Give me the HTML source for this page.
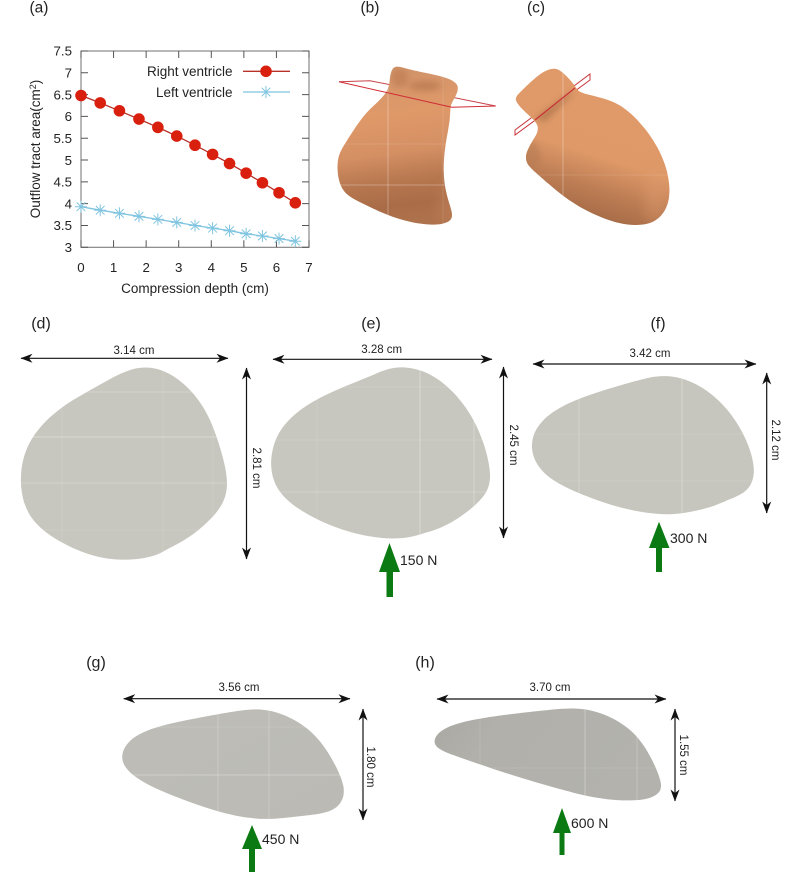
<!DOCTYPE html>
<html lang="en">
<head>
<meta charset="utf-8">
<title>Outflow tract compression figure</title>
<style>
html,body{margin:0;padding:0;background:#fff;}
svg{display:block;}
.ls{font-family:"Liberation Sans",sans-serif;fill:#222;}
.tick{font-size:13.3px;}
.axis{font-size:13.5px;}
.dim{font-size:11.5px;text-anchor:middle;dominant-baseline:central;}
.force{font-size:14px;dominant-baseline:central;}
.panel-dv{font-size:16px;text-anchor:middle;dominant-baseline:central;}
.panel-ls{font-size:15.5px;text-anchor:middle;dominant-baseline:central;}
.seam{stroke:#fff;stroke-width:.8;opacity:.14;fill:none;}
.seam.strong{opacity:.38;}
.dimline{stroke:#111;stroke-width:1.2;fill:none;}
</style>
</head>
<body>
<svg id="fig" width="787" height="874" viewBox="0 0 787 874" xmlns="http://www.w3.org/2000/svg">
<defs>
  <marker id="ah" viewBox="0 0 12 10" refX="11.5" refY="5" markerWidth="12" markerHeight="10" markerUnits="userSpaceOnUse" orient="auto-start-reverse">
    <path d="M0 .5L12 5L0 9.5L3.5 5Z" fill="#111"/>
  </marker>
  <linearGradient id="heartB" x1=".4" y1="0" x2=".5" y2="1">
    <stop offset="0" stop-color="#d0936a"/>
    <stop offset=".3" stop-color="#df9969"/>
    <stop offset=".55" stop-color="#d48f63"/>
    <stop offset=".72" stop-color="#b87850"/>
    <stop offset=".88" stop-color="#a96c47"/>
    <stop offset="1" stop-color="#ae724c"/>
  </linearGradient>
  <linearGradient id="heartC" x1=".65" y1=".2" x2=".4" y2="1">
    <stop offset="0" stop-color="#e09a6a"/>
    <stop offset=".45" stop-color="#df9968"/>
    <stop offset=".7" stop-color="#bd7d54"/>
    <stop offset=".9" stop-color="#a76c47"/>
    <stop offset="1" stop-color="#a96e49"/>
  </linearGradient>
  <linearGradient id="grayG" x1="0" y1="0" x2="1" y2="1">
    <stop offset="0" stop-color="#bebdb7"/>
    <stop offset="1" stop-color="#bbbab4"/>
  </linearGradient>
  <linearGradient id="grayH" x1="0" y1="0" x2="1" y2=".3">
    <stop offset="0" stop-color="#a9a8a3"/>
    <stop offset=".3" stop-color="#b1b0aa"/>
    <stop offset="1" stop-color="#b3b2ac"/>
  </linearGradient>
  <filter id="soft" x="-40%" y="-40%" width="180%" height="180%"><feGaussianBlur stdDeviation="3"/></filter>
  <filter id="softer" x="-40%" y="-40%" width="180%" height="180%"><feGaussianBlur stdDeviation="7"/></filter>
  <clipPath id="clip-b"><path id="c-b"/></clipPath>
  <clipPath id="clip-c"><path id="c-c"/></clipPath>
  <clipPath id="clip-d"><path id="c-d"/></clipPath>
  <clipPath id="clip-e"><path id="c-e"/></clipPath>
  <clipPath id="clip-f"><path id="c-f"/></clipPath>
  <clipPath id="clip-g"><path id="c-g"/></clipPath>
  <clipPath id="clip-h"><path id="c-h"/></clipPath>
</defs>

<!-- panel letters -->
<text class="ls panel-ls" x="39" y="8">(a)</text>
<text class="ls panel-ls" x="370" y="8">(b)</text>
<text class="ls panel-ls" x="536" y="8">(c)</text>
<text class="ls panel-dv" x="41" y="324">(d)</text>
<text class="ls panel-dv" x="371" y="324">(e)</text>
<text class="ls panel-dv" x="658" y="324">(f)</text>
<text class="ls panel-dv" x="96" y="663">(g)</text>
<text class="ls panel-dv" x="425" y="663">(h)</text>

<!-- chart -->
<g id="chart"></g>

<!-- heart b -->
<g>
  <polyline points="339,81.7 370,80.7 495.7,106" fill="none" stroke="#c8444a" stroke-width="1"/>
  <path id="s-b" fill="url(#heartB)"/>
  <g clip-path="url(#clip-b)">
    <ellipse cx="400" cy="78" rx="8" ry="9" fill="#b9754c" opacity=".5" filter="url(#soft)"/>
    <ellipse cx="425" cy="86" rx="16" ry="5" fill="#a9683f" opacity=".45" filter="url(#soft)"/>
    <ellipse cx="448" cy="205" rx="10" ry="20" fill="#d59468" opacity=".3" filter="url(#softer)"/>
    <line class="seam strong" x1="388" y1="60" x2="388" y2="225"/>
    <line class="seam strong" x1="330" y1="185" x2="460" y2="185"/>
    <line class="seam" x1="330" y1="144" x2="460" y2="144"/>
    <line class="seam" x1="443" y1="60" x2="443" y2="225"/>
  </g>
  <polyline points="339,81.7 451.7,107.3 495.7,106" fill="none" stroke="#cf2b35" stroke-width="1"/>
</g>

<!-- heart c -->
<g>
  <polygon points="515,130 590,74 590,80 515,135" fill="none" stroke="#c8343a" stroke-width="1"/>
  <path id="s-c" fill="url(#heartC)"/>
  <g clip-path="url(#clip-c)">
    <path d="M535 118L565 96L575 92L545 122Z" fill="#99653f" opacity=".5" filter="url(#soft)"/>
    <ellipse cx="530" cy="155" rx="10" ry="14" fill="#b37a52" opacity=".5" filter="url(#soft)"/>
    <ellipse cx="655" cy="195" rx="10" ry="30" fill="#dd9a6d" opacity=".45" filter="url(#softer)"/>
    <line class="seam strong" x1="563" y1="60" x2="563" y2="225"/>
    <line class="seam" x1="510" y1="175" x2="670" y2="175"/>
  </g>
  <line x1="535" y1="120" x2="575" y2="88" stroke="#c93338" stroke-width="1.2"/>
</g>

<!-- panel d -->
<g>
  <path id="s-d" fill="#c8c7bf"/>
  <g clip-path="url(#clip-d)">
    <line class="seam strong" x1="0" y1="437" x2="260" y2="437"/>
    <line class="seam" x1="0" y1="483" x2="260" y2="483" style="opacity:.28"/>
    <line class="seam" x1="0" y1="392" x2="260" y2="392" style="opacity:.28"/>
    <line class="seam" x1="0" y1="530" x2="260" y2="530"/>
    <line class="seam" x1="62" y1="360" x2="62" y2="570"/>
    <line class="seam" x1="163" y1="360" x2="163" y2="570"/>
    <line class="seam" x1="213" y1="360" x2="213" y2="570"/>
  </g>
  <line class="dimline" x1="21" y1="358.3" x2="228" y2="358.3" marker-start="url(#ah)" marker-end="url(#ah)"/>
  <line class="dimline" x1="246.5" y1="368" x2="246.5" y2="559" marker-start="url(#ah)" marker-end="url(#ah)"/>
  <text class="ls dim" x="134" y="351">3.14 cm</text>
  <text class="ls dim" transform="translate(256 468) rotate(90)">2.81 cm</text>
</g>

<!-- panel e -->
<g>
  <path id="s-e" fill="#c8c7bf"/>
  <g clip-path="url(#clip-e)">
    <line class="seam strong" x1="420" y1="360" x2="420" y2="545"/>
    <line class="seam" x1="474" y1="360" x2="474" y2="545" style="opacity:.32"/>
    <line class="seam" x1="317" y1="360" x2="317" y2="545"/>
    <line class="seam" x1="265" y1="387" x2="495" y2="387"/>
    <line class="seam" x1="265" y1="440" x2="495" y2="440"/>
    <line class="seam" x1="265" y1="492" x2="495" y2="492" style="opacity:.28"/>
  </g>
  <line class="dimline" x1="273" y1="359.3" x2="492" y2="359.3" marker-start="url(#ah)" marker-end="url(#ah)"/>
  <line class="dimline" x1="503.5" y1="367" x2="503.5" y2="538" marker-start="url(#ah)" marker-end="url(#ah)"/>
  <text class="ls dim" x="381.7" y="350">3.28 cm</text>
  <text class="ls dim" transform="translate(513 445) rotate(90)">2.45 cm</text>
  <polygon points="389.5,543 400,572 393,572 393,597 386.5,597 386.5,572 379,572" fill="#0b7a12"/>
  <text class="ls force" x="400" y="560">150 N</text>
</g>

<!-- panel f -->
<g>
  <path id="s-f" fill="#c7c6be"/>
  <g clip-path="url(#clip-f)">
    <line class="seam" x1="579" y1="370" x2="579" y2="520" style="opacity:.28"/>
    <line class="seam" x1="682" y1="370" x2="682" y2="520" style="opacity:.32"/>
    <line class="seam" x1="525" y1="434" x2="760" y2="434"/>
    <line class="seam" x1="525" y1="481" x2="760" y2="481"/>
  </g>
  <line class="dimline" x1="533" y1="364" x2="756" y2="364" marker-start="url(#ah)" marker-end="url(#ah)"/>
  <line class="dimline" x1="766.7" y1="373" x2="766.7" y2="513" marker-start="url(#ah)" marker-end="url(#ah)"/>
  <text class="ls dim" x="650" y="354">3.42 cm</text>
  <text class="ls dim" transform="translate(775 440) rotate(90)">2.12 cm</text>
  <polygon points="659,521.7 669.5,548 662,548 662,572 656,572 656,548 649,548" fill="#0b7a12"/>
  <text class="ls force" x="670" y="538">300 N</text>
</g>

<!-- panel g -->
<g>
  <path id="s-g" fill="url(#grayG)"/>
  <g clip-path="url(#clip-g)">
    <line class="seam strong" x1="115" y1="775" x2="350" y2="775"/>
    <line class="seam" x1="115" y1="727" x2="350" y2="727"/>
    <line class="seam" x1="218" y1="705" x2="218" y2="825" style="opacity:.28"/>
    <line class="seam" x1="269" y1="705" x2="269" y2="825" style="opacity:.28"/>
  </g>
  <line class="dimline" x1="123.7" y1="698.7" x2="350" y2="698.7" marker-start="url(#ah)" marker-end="url(#ah)"/>
  <line class="dimline" x1="363" y1="709" x2="363" y2="820" marker-start="url(#ah)" marker-end="url(#ah)"/>
  <text class="ls dim" x="239" y="688">3.56 cm</text>
  <text class="ls dim" transform="translate(370 767) rotate(90)">1.80 cm</text>
  <polygon points="252,825 262,849 255,849 255,872 249,872 249,849 242,849" fill="#0b7a12"/>
  <text class="ls force" x="262" y="839">450 N</text>
</g>

<!-- panel h -->
<g>
  <path id="s-h" fill="url(#grayH)"/>
  <g clip-path="url(#clip-h)">
    <line class="seam" x1="430" y1="768" x2="665" y2="768"/>
    <line class="seam strong" x1="585" y1="705" x2="585" y2="805"/>
    <line class="seam" x1="637" y1="705" x2="637" y2="805" style="opacity:.28"/>
    <line class="seam" x1="480" y1="705" x2="480" y2="805"/>
  </g>
  <line class="dimline" x1="437" y1="699" x2="666" y2="699" marker-start="url(#ah)" marker-end="url(#ah)"/>
  <line class="dimline" x1="675" y1="709" x2="675" y2="801" marker-start="url(#ah)" marker-end="url(#ah)"/>
  <text class="ls dim" x="550" y="688">3.70 cm</text>
  <text class="ls dim" transform="translate(683 755) rotate(90)">1.55 cm</text>
  <polygon points="562,808 571,833 564.5,833 564.5,855 559.5,855 559.5,833 553,833" fill="#0b7a12"/>
  <text class="ls force" x="571" y="823">600 N</text>
</g>
</svg>

<script>
// ---- chart data ----
var depthRight = [0,0.59,1.18,1.78,2.36,2.94,3.5,4.04,4.56,5.07,5.57,6.08,6.58];
var areaRight  = [6.48,6.31,6.13,5.94,5.75,5.55,5.34,5.13,4.92,4.70,4.48,4.25,4.02];
var depthLeft  = [0,0.59,1.18,1.78,2.36,2.94,3.5,4.04,4.56,5.07,5.57,6.08,6.58];
var areaLeft   = [3.93,3.85,3.78,3.71,3.64,3.57,3.50,3.44,3.38,3.31,3.26,3.20,3.14];
var xTicks = [0,1,2,3,4,5,6,7];
var yTicks = [3,3.5,4,4.5,5,5.5,6,6.5,7,7.5];
var seriesNames = ["Right ventricle","Left ventricle"];

var NS = "http://www.w3.org/2000/svg";
var PL = 81, PR = 309, PT = 51, PB = 247.3;
function xScale(v){ return PL + (v - 0) / 7 * (PR - PL); }
function yScale(v){ return PB - (v - 3) / 4.5 * (PB - PT); }
function mk(parent, tag, attrs, txt){
  var el = document.createElementNS(NS, tag);
  for (var k in attrs) el.setAttribute(k, attrs[k]);
  if (txt !== undefined) el.textContent = txt;
  parent.appendChild(el);
  return el;
}
var chart = document.getElementById("chart");
var RED = "#d9200f", REDLINE = "#b8312a", BLUE = "#7fc4e0";

var frame = mk(chart, "rect", {x:PL, y:PT, width:PR-PL, height:PB-PT, fill:"none", stroke:"#7d7d7d", "stroke-width":1.1});



xTicks.forEach(function(t){
  var x = xScale(t);
  var tk = mk(chart, "path", {d:"M"+x+" "+PB+"v-7M"+x+" "+PT+"v7", stroke:"#555", "stroke-width":1, fill:"none"});
  
  
  var lb = mk(chart, "text", {x:x, y:272, "class":"ls tick", "text-anchor":"middle"}, String(t));
  
  
});
yTicks.forEach(function(t){
  var y = yScale(t);
  var tk = mk(chart, "path", {d:"M"+PL+" "+y+"h7M"+PR+" "+y+"h-7", stroke:"#555", "stroke-width":1, fill:"none"});
  
  
  var lb = mk(chart, "text", {x:72, y:y+4.7, "class":"ls tick", "text-anchor":"end"}, String(t));
  
  
});

var xTitle = mk(chart, "text", {x:195, y:293, "class":"ls axis", "text-anchor":"middle"}, "Compression depth (cm)");



var yTitle = mk(chart, "text", {transform:"translate(40 149) rotate(-90)", "class":"ls axis", "text-anchor":"middle"});


mk(yTitle, "tspan", {}, "Outflow tract area(cm");
mk(yTitle, "tspan", {dy:"-4", "font-size":"9"}, "2");
mk(yTitle, "tspan", {dy:"4"}, ")");

function polyPts(xs, ys){
  return xs.map(function(v,i){ return xScale(v).toFixed(1)+","+yScale(ys[i]).toFixed(1); }).join(" ");
}
var lineR = mk(chart, "polyline", {points:polyPts(depthRight, areaRight), fill:"none", stroke:REDLINE, "stroke-width":1.3});


var lineL = mk(chart, "polyline", {points:polyPts(depthLeft, areaLeft), fill:"none", stroke:BLUE, "stroke-width":1.3});



function star(parent, cx, cy, r){
  var d = "M"+(cx-r)+" "+cy+"h"+(2*r)+"M"+cx+" "+(cy-r)+"v"+(2*r)+
          "M"+(cx-r*.72)+" "+(cy-r*.72)+"l"+(1.44*r)+" "+(1.44*r)+
          "M"+(cx-r*.72)+" "+(cy+r*.72)+"l"+(1.44*r)+" "+(-1.44*r);
  return mk(parent, "path", {d:d, stroke:BLUE, "stroke-width":1, fill:"none"});
}
depthRight.forEach(function(v,i){
  var c = mk(chart, "circle", {cx:xScale(v), cy:yScale(areaRight[i]), r:5.8, fill:RED});
  
  
});
depthLeft.forEach(function(v,i){
  var s = star(chart, xScale(v), yScale(areaLeft[i]), 6);
  
  
});

// legend
var l1 = mk(chart, "text", {x:232.5, y:76, "class":"ls axis", "text-anchor":"end"}, seriesNames[0]);


var l2 = mk(chart, "text", {x:232.5, y:97, "class":"ls axis", "text-anchor":"end"}, seriesNames[1]);


var k1 = mk(chart, "line", {x1:243, x2:290, y1:71.3, y2:71.3, stroke:REDLINE, "stroke-width":1.3});


var k1m = mk(chart, "circle", {cx:266, cy:71.3, r:5.8, fill:RED});


var k2 = mk(chart, "line", {x1:243, x2:290, y1:92, y2:92, stroke:BLUE, "stroke-width":1.3});


var k2m = star(chart, 266, 92, 6);



// ---- anatomical outlines (traced shapes, not chart data) ----
function subdivide(p){
  var n = p.length, out = [];
  for (var i=0;i<n;i++){
    var a=p[(i-1+n)%n], b=p[i], c=p[(i+1)%n], e=p[(i+2)%n];
    out.push(b);
    out.push([(-a[0]+9*b[0]+9*c[0]-e[0])/16, (-a[1]+9*b[1]+9*c[1]-e[1])/16]);
  }
  return out;
}
function relax(p, passes){
  for (var t=0;t<passes;t++){
    var n=p.length;
    p = p.map(function(b,i){
      var a=p[(i-1+n)%n], c=p[(i+1)%n];
      return [.25*a[0]+.5*b[0]+.25*c[0], .25*a[1]+.5*b[1]+.25*c[1]];
    });
  }
  return p;
}
function smooth(pts, ox, oy, sx, sy, passes, grow){
  var p = pts.map(function(q){ return [ox + q[0]/sx, oy + q[1]/sy]; });
  p = relax(subdivide(p), passes);
  var n = p.length, mx = 0, my = 0;
  p.forEach(function(q){ mx += q[0]/n; my += q[1]/n; });
  p = p.map(function(q){ return [mx+(q[0]-mx)*grow, my+(q[1]-my)*grow]; });
  var d = "M"+p[0][0].toFixed(1)+" "+p[0][1].toFixed(1);
  for (var i=0;i<n;i++){
    var a=p[(i-1+n)%n], b=p[i], c=p[(i+1)%n], e=p[(i+2)%n];
    d += "C"+(b[0]+(c[0]-a[0])/6).toFixed(1)+" "+(b[1]+(c[1]-a[1])/6).toFixed(1)+" "+
         (c[0]-(e[0]-b[0])/6).toFixed(1)+" "+(c[1]-(e[1]-b[1])/6).toFixed(1)+" "+
         c[0].toFixed(1)+" "+c[1].toFixed(1);
  }
  return d+"Z";
}
function setShape(k, pts, ox, oy, sx, sy, passes, grow){
  var d = smooth(pts, ox, oy, sx, sy, passes, grow);
  document.getElementById("s-"+k).setAttribute("d", d);
  document.getElementById("c-"+k).setAttribute("d", d);
}
setShape("b", [[200,17],[235,30],[300,42],[378,62],[384,90],[372,118],[358,140],[362,175],[345,250],[338,340],[350,410],[368,460],[362,480],[335,492],[290,493],[200,478],[100,430],[60,410],[30,380],[22,320],[28,280],[50,245],[85,190],[120,145],[175,100],[178,60],[185,30]], 330,60,3,3,2,1.005);
setShape("c", [[140,25],[165,30],[195,60],[215,85],[222,97],[270,110],[330,125],[390,170],[445,240],[480,310],[495,385],[485,445],[450,485],[400,495],[340,490],[260,460],[190,420],[130,370],[90,335],[65,310],[62,280],[85,240],[100,215],[98,190],[70,165],[35,130],[32,110],[60,85],[100,45]], 505,60,3,3,2,1.005);
setShape("d", [[405,20],[470,35],[530,80],[585,145],[620,235],[650,340],[650,400],[625,450],[590,485],[540,530],[490,555],[460,570],[430,590],[330,602],[240,585],[150,545],[80,495],[45,440],[30,360],[45,280],[70,230],[120,170],[190,120],[260,85],[340,35]], 10,360,3,3,3,1.01);
setShape("e", [[405,22],[470,30],[530,65],[590,125],[630,190],[660,265],[678,350],[665,395],[630,435],[570,480],[520,505],[480,515],[440,530],[370,537],[260,520],[150,475],[70,425],[30,375],[17,310],[30,245],[60,190],[130,130],[230,85],[310,55],[360,30]], 265,360,3,3,3,1.01);
setShape("f", [[430,198],[490,205],[560,240],[620,295],[670,370],[695,440],[702,490],[690,530],[660,555],[625,565],[590,585],[530,600],[480,610],[420,613],[330,600],[230,570],[120,525],[60,480],[33,420],[45,360],[90,310],[170,268],[280,235],[380,205]], 520,310,3,3,3,1.01);
setShape("g", [[420,27],[480,35],[550,65],[610,115],[650,180],[680,240],[688,285],[665,325],[620,340],[560,345],[490,355],[420,357],[330,340],[240,310],[130,270],[50,225],[17,180],[35,130],[90,90],[200,65],[350,37]], 115,700,3,3,3,1.012);
setShape("h", [[430,25],[490,32],[560,60],[620,105],[660,170],[690,240],[693,270],[665,293],[620,300],[560,300],[500,293],[440,280],[330,250],[200,210],[90,170],[26,150],[14,125],[28,95],[90,65],[230,45],[370,30]], 430,700,3,3,3,1.012);
</script>
</body>
</html>
